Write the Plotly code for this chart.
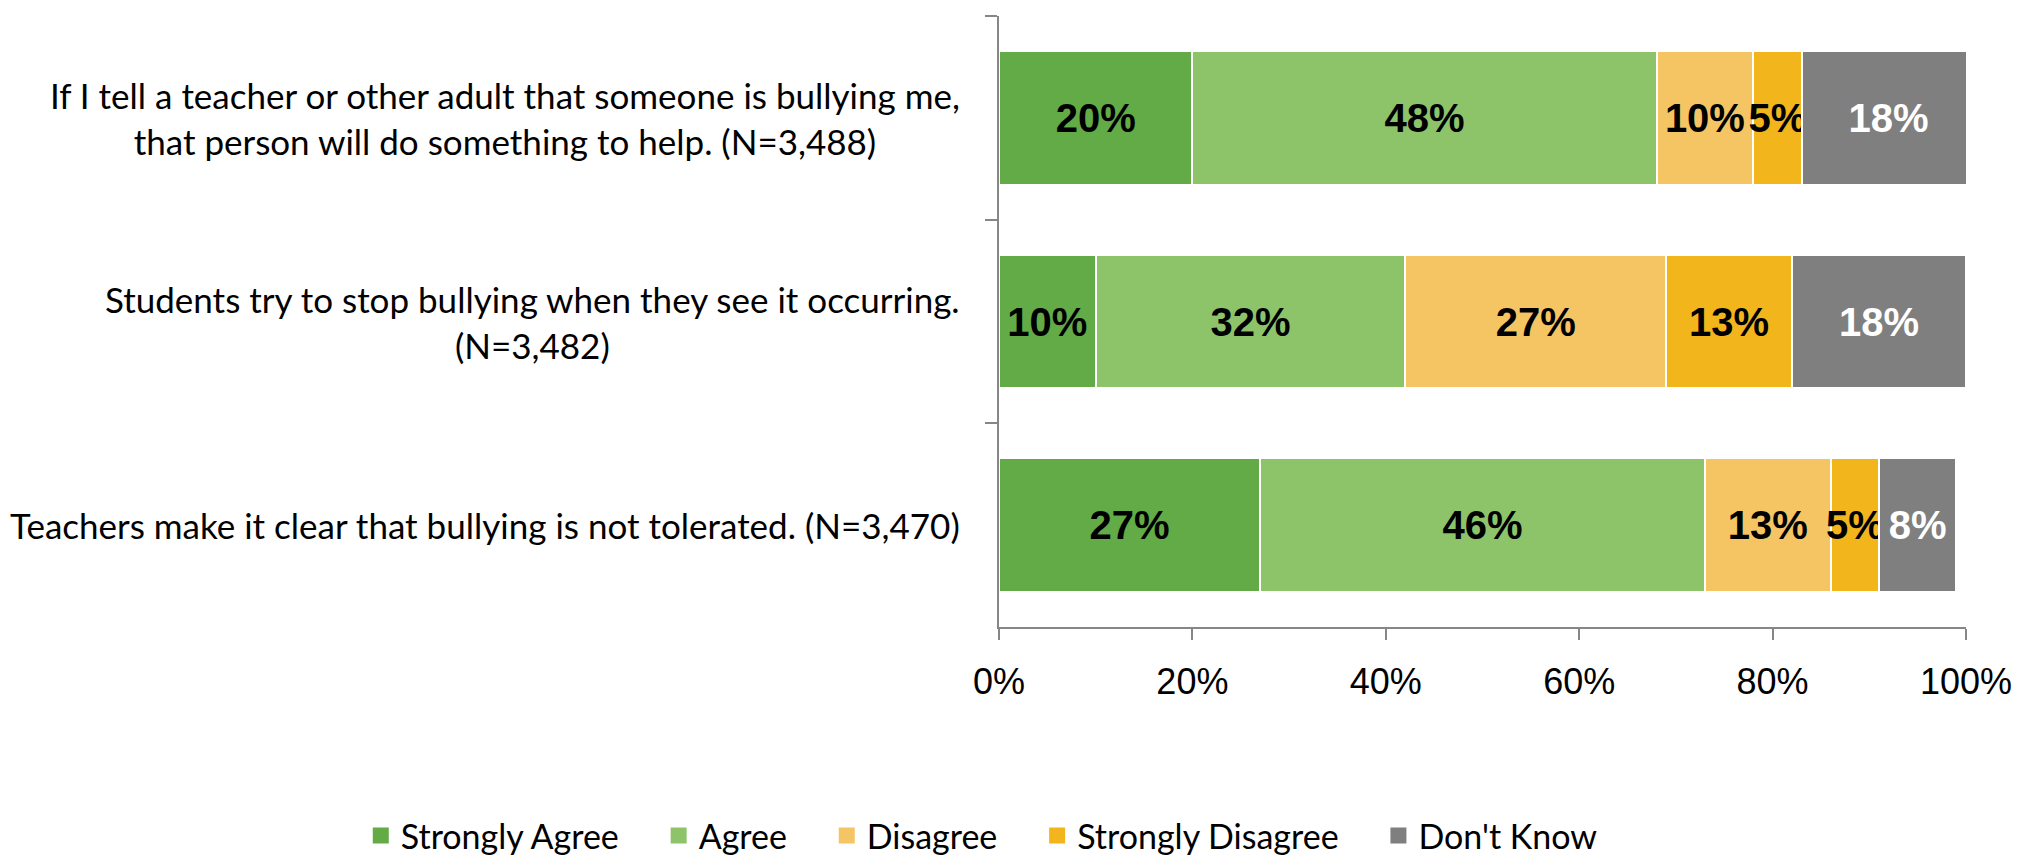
import plotly.graph_objects as go

# survey statements, top to bottom
statements = [
    "If I tell a teacher or other adult that someone is bullying me,<br>that person will do something to help. (N=3,488)",
    "Students try to stop bullying when they see it occurring.<br>(N=3,482)",
    "Teachers make it clear that bullying is not tolerated. (N=3,470)",
]
responses = ["Strongly Agree", "Agree", "Disagree", "Strongly Disagree", "Don't Know"]

strongly_agree = [20, 10, 27]
agree = [48, 32, 46]
disagree = [10, 27, 13]
strongly_disagree = [5, 13, 5]
dont_know = [18, 18, 8]

series = [strongly_agree, agree, disagree, strongly_disagree, dont_know]
colors = ["#62AB46", "#8DC46A", "#F6C563", "#F2B61C", "#7F7F7F"]
text_colors = ["black", "black", "black", "black", "white"]

x_ticks = [0, 20, 40, 60, 80, 100]
x_tick_text = ["0%", "20%", "40%", "60%", "80%", "100%"]

label_font = "Lato, Calibri, Carlito, sans-serif"
bar_font = "Liberation Sans Narrow, Arial Narrow, Liberation Sans, Arial, sans-serif"

fig = go.Figure()
for name, vals, col, tcol in zip(responses, series, colors, text_colors):
    fig.add_trace(go.Bar(
        y=statements, x=vals, name=name, orientation="h",
        marker=dict(color=col, line=dict(color="white", width=2)),
        text=[f"{v}%" for v in vals],
        textposition="inside", insidetextanchor="middle",
        textangle=0, constraintext="none",
        textfont=dict(family=bar_font, size=40, color=tcol, weight="bold"),
        hoverinfo="skip", showlegend=False,
    ))

# legend entries with bigger square swatches
pad = "\u00a0" * 4
for name, col in zip(responses, colors):
    fig.add_trace(go.Scatter(
        x=[None], y=[None], mode="markers", name=name + pad,
        marker=dict(symbol="square", size=16, color=col),
    ))

# category labels, centred lines like the original
for s in statements:
    fig.add_annotation(x=0, xref="paper", y=s, yref="y", text=s,
                       xanchor="right", xshift=-37, align="center",
                       showarrow=False,
                       font=dict(family=label_font, size=35, color="black"))

fig.update_layout(
    width=2026, height=856,
    barmode="stack", bargap=0.344,
    plot_bgcolor="white", paper_bgcolor="white",
    margin=dict(l=991, r=68, t=8, b=237, autoexpand=False),
    showlegend=True,
    legend=dict(orientation="h", xref="paper", yref="paper",
                x=-0.66, y=-0.342, xanchor="left", yanchor="middle",
                font=dict(family=label_font, size=34, color="black"),
                itemsizing="trace", traceorder="normal"),
)
fig.update_xaxes(range=[0, 100], tickvals=x_ticks, ticktext=x_tick_text,
                 showgrid=False, zeroline=False,
                 showline=True, linecolor="#868686", linewidth=2,
                 ticks="outside", ticklen=11, tickcolor="#868686", tickwidth=2,
                 ticklabelstandoff=11,
                 tickfont=dict(family="Liberation Sans, Arial", size=36, color="black"))
fig.update_yaxes(autorange="reversed", showticklabels=False, showgrid=False,
                 showline=True, linecolor="#868686", linewidth=2,
                 ticks="outside", ticklen=12, tickcolor="#868686", tickwidth=2,
                 tickson="boundaries")

fig.write_html("out.html")
